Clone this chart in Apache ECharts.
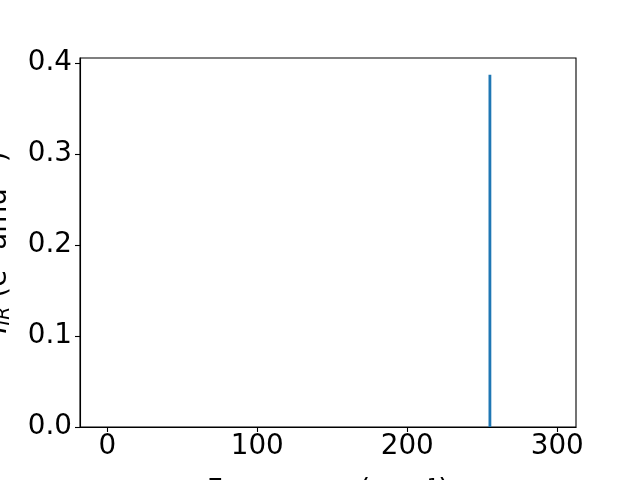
<!DOCTYPE html>
<html><head><meta charset="utf-8">
<script src="https://cdn.jsdelivr.net/npm/echarts@6/dist/echarts.min.js"></script>
<style>html,body{margin:0;padding:0;background:#fff}#c{width:640px;height:480px}</style>
</head><body><div id="c"></div>
<script>
const frequencies = [255.1];
const intensities = [0.387];
const xTicks = [0, 100, 200, 300];
const yTicks = [0.0, 0.1, 0.2, 0.3, 0.4];

const lineData = [];
frequencies.forEach((f, i) => {
  lineData.push([f, 0], [f, intensities[i]], [f, null]);
});

const font = 'DejaVu Sans';
const chart = echarts.init(document.getElementById('c'), null, {renderer: 'canvas'});
chart.setOption({
  animation: false,
  backgroundColor: '#fff',
  grid: {left: 80, right: 64, top: 58, bottom: 53, containLabel: false, outerBoundsMode: 'none',
    show: true, borderColor: '#000', borderWidth: 1.1, backgroundColor: 'transparent'},
  xAxis: {
    type: 'value', min: -18.2, max: 312.5,
    name: 'Frequency (cm⁻¹)', nameLocation: 'middle', nameGap: 51,
    nameTextStyle: {fontFamily: font, fontSize: 27.8, color: '#000'},
    axisLine: {show: true, onZero: false, lineStyle: {color: '#000', width: 1.1}},
    axisTick: {show: true, length: 5, lineStyle: {color: '#000', width: 1.1}, customValues: xTicks},
    axisLabel: {fontFamily: font, fontSize: 27.8, color: '#000', margin: 6, customValues: xTicks},
    splitLine: {show: false}
  },
  yAxis: {
    type: 'value', min: 0, max: 0.4055,
    name: '{i|I}{s|IR} (e² amu⁻¹)', nameLocation: 'middle', nameGap: 66, nameRotate: 90,
    nameTextStyle: {fontFamily: font, fontSize: 27.8, color: '#000',
      rich: {i: {fontFamily: font, fontSize: 27.8, fontStyle: 'italic', color: '#000'},
             s: {fontFamily: font, fontSize: 19, fontStyle: 'italic', color: '#000', padding: [12, 0, 0, 0]}}},
    axisLine: {show: true, onZero: false, lineStyle: {color: '#000', width: 1.1}},
    axisTick: {show: true, length: 5, lineStyle: {color: '#000', width: 1.1}, customValues: yTicks},
    axisLabel: {fontFamily: font, fontSize: 27.8, color: '#000', margin: 8, customValues: yTicks,
      formatter: v => v.toFixed(1)},
    splitLine: {show: false}
  },
  series: [{
    type: 'line', data: lineData, showSymbol: false, symbol: 'none', connectNulls: false,
    lineStyle: {color: '#1f77b4', width: 2.8, cap: 'butt'}
  }]
});
</script></body></html>
